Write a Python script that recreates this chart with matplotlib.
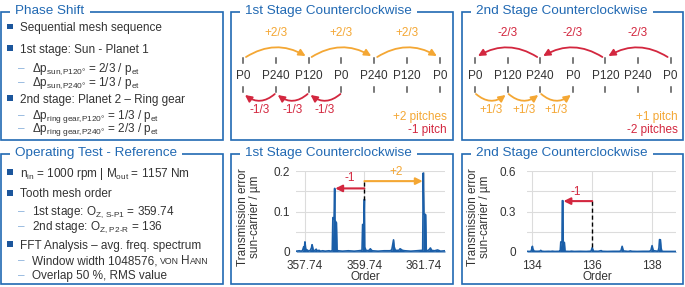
import matplotlib
matplotlib.use("Agg")
import matplotlib.pyplot as plt
from matplotlib.patches import Rectangle, FancyArrowPatch

plt.rcParams['font.family'] = ['Liberation Sans', 'DejaVu Sans']
plt.rcParams['mathtext.fontset'] = 'custom'
plt.rcParams['mathtext.rm'] = 'Liberation Sans'
plt.rcParams['mathtext.it'] = 'Liberation Sans'
plt.rcParams['mathtext.default'] = 'regular'

BLUE = '#2169b3'
DARK = '#1c569c'
DASH = '#8db3dc'
ORANGE = '#f4a734'
RED = '#d3273f'
BAR = '#1a5ea8'
GRID = '#dcdcdc'
TXT = '#333333'

# =========================
# DATA
# =========================
seq_stage1 = ["P0", "P240", "P120", "P0", "P240", "P120", "P0"]
seq_stage2 = ["P0", "P120", "P240", "P0", "P120", "P240", "P0"]
hops1_big = [(0, 2), (2, 4), (4, 6)]      # +2/3 each
hops1_small = [(1, 0), (2, 1), (3, 2)]    # -1/3 each
hops2_big = [(2, 0), (4, 2), (6, 4)]      # -2/3 each
hops2_small = [(0, 1), (1, 2), (2, 3)]    # +1/3 each

# spectrum 1st stage (order, transmission error in um)
order_s1 = [357.45, 357.55, 357.62, 357.66, 357.70, 357.72, 357.74, 357.76, 357.78,
            357.82, 357.86, 357.92, 357.96, 357.98, 358.00, 358.02, 358.06, 358.12,
            358.14, 358.22, 358.26, 358.34, 358.42, 358.55, 358.62, 358.66, 358.68,
            358.72, 358.74, 358.75, 358.80, 358.82, 358.86, 359.00, 359.20, 359.40,
            359.55, 359.66, 359.68, 359.72, 359.74, 359.75, 359.80, 359.90, 359.94,
            359.96, 360.00, 360.20, 360.40, 360.60, 360.66, 360.68, 360.72, 360.74,
            360.78, 360.90, 360.94, 360.98, 361.02, 361.10, 361.30, 361.50, 361.66,
            361.70, 361.72, 361.74, 361.80, 361.82, 361.86, 361.92, 361.96, 362.00,
            362.10, 362.20, 362.30, 362.45]
te_s1 = [0.002, 0.003, 0.002, 0.004, 0.013, 0.006, 0.025, 0.012, 0.003,
         0.005, 0.002, 0.004, 0.010, 0.018, 0.012, 0.004, 0.003, 0.007,
         0.003, 0.004, 0.002, 0.003, 0.002, 0.003, 0.002, 0.004, 0.085,
         0.082, 0.157, 0.078, 0.072, 0.004, 0.003, 0.002, 0.003, 0.002,
         0.003, 0.004, 0.068, 0.066, 0.130, 0.012, 0.003, 0.004, 0.008,
         0.006, 0.003, 0.002, 0.003, 0.003, 0.005, 0.013, 0.030, 0.013,
         0.004, 0.004, 0.008, 0.006, 0.004, 0.003, 0.002, 0.003, 0.004,
         0.004, 0.195, 0.095, 0.092, 0.004, 0.003, 0.006, 0.010, 0.004,
         0.003, 0.005, 0.002, 0.003]
ticks_s1 = [357.74, 359.74, 361.74]

# spectrum 2nd stage
order_s2 = [133.82, 133.90, 133.96, 134.00, 134.02, 134.06, 134.15, 134.25,
            134.28, 134.31, 134.40, 134.55, 134.62, 134.66, 134.75, 134.90, 134.93,
            134.95, 134.99, 135.00, 135.02, 135.03, 135.07, 135.09, 135.25, 135.30,
            135.40, 135.60, 135.80, 135.96, 136.00, 136.04, 136.20, 136.30, 136.34,
            136.50, 136.70, 136.90, 136.96, 137.00, 137.04, 137.20, 137.28, 137.32,
            137.50, 137.70, 137.90, 137.96, 138.00, 138.04, 138.20, 138.23, 138.25,
            138.28, 138.30, 138.33, 138.40, 138.60, 138.80]
te_s2 = [0.005, 0.004, 0.006, 0.042, 0.020, 0.006, 0.005, 0.006,
         0.012, 0.006, 0.004, 0.005, 0.004, 0.006, 0.004, 0.005, 0.005,
         0.075, 0.072, 0.380, 0.380, 0.075, 0.070, 0.005, 0.004, 0.006,
         0.004, 0.005, 0.004, 0.006, 0.032, 0.006, 0.005, 0.010, 0.005,
         0.004, 0.005, 0.005, 0.008, 0.042, 0.008, 0.004, 0.008, 0.005,
         0.004, 0.005, 0.005, 0.010, 0.047, 0.010, 0.005, 0.030, 0.092,
         0.090, 0.030, 0.005, 0.004, 0.004, 0.004]
ticks_s2 = [134, 136, 138]

fig = plt.figure(figsize=(6.85, 2.87), dpi=100)
bg = fig.add_axes([0, 0, 1, 1])
bg.set_xlim(0, 685)
bg.set_ylim(287, 0)
bg.axis('off')


def panel(x0, y0, x1, y1, title):
    bg.add_patch(Rectangle((x0, y0), x1 - x0, y1 - y0, fill=False, ec=BLUE, lw=1.2))
    bg.text(x0 + 14, y0 - 1, title, color=BLUE, fontsize=9.7, va='center', ha='left',
            bbox=dict(fc='white', ec='none', boxstyle='square,pad=0.4'))


def bullet(y, s):
    bg.add_patch(Rectangle((7.3, y - 7.3), 6, 5.8, color=DARK, lw=0))
    bg.text(20, y, s, fontsize=8.5, va='baseline', color=TXT)


def sub(y, s):
    bg.text(18.5, y + 0.5, "–", fontsize=8.5, va='baseline', color=DASH)
    bg.text(32, y, s, fontsize=8.5, va='baseline', color=TXT)


def chain(x, y, parts):
    r = fig.canvas.get_renderer()
    for s, size, gap in parts:
        t = bg.text(x, y, s, fontsize=size, va='baseline', color=TXT)
        bb = t.get_window_extent(renderer=r)
        x = bg.transData.inverted().transform((bb.x1, 0))[0] + gap


panel(1, 12, 223, 140, "Phase Shift")
panel(231, 12, 453, 140, "1st Stage Counterclockwise")
panel(462, 12, 683, 140, "2nd Stage Counterclockwise")
panel(1, 154, 223, 284, "Operating Test - Reference")
panel(231, 154, 453, 284, "1st Stage Counterclockwise")
panel(462, 154, 683, 284, "2nd Stage Counterclockwise")

# ---- phase shift text
bullet(31, "Sequential mesh sequence")
bullet(52.5, "1st stage: Sun - Planet 1")
sub(72, r"Δp$_{\text{sun,P120°}}$ = 2/3 / p$_{\text{et}}$")
sub(85.5, r"Δp$_{\text{sun,P240°}}$ = 1/3 / p$_{\text{et}}$")
bullet(102.5, "2nd stage: Planet 2 – Ring gear")
sub(118.5, r"Δp$_{\text{ring gear,P120°}}$ = 1/3 / p$_{\text{et}}$")
sub(132, r"Δp$_{\text{ring gear,P240°}}$ = 2/3 / p$_{\text{et}}$")

# ---- operating test text
bullet(176.5, r"n$_{\text{in}}$ = 1000 rpm | M$_{\text{out}}$ = 1157 Nm")
bullet(197, "Tooth mesh order")
sub(215, r"1st stage: O$_{\text{Z, S-P1}}$ = 359.74")
sub(230, r"2nd stage: O$_{\text{Z, P2-R}}$ = 136")
bullet(248.5, "FFT Analysis – avg. freq. spectrum")
bg.text(18.5, 264.5, "–", fontsize=8.5, va='baseline', color=DASH)
chain(32, 264, [("Window width 1048576,", 8.5, 2.5), ("VON", 6.3, 2.5),
                ("H", 8.5, 0), ("ANN", 6.3, 0)])
sub(278.5, "Overlap 50 %, RMS value")


# ---- pitch diagrams
def diagram(x0, step, seq, big, small, cbig, csmall, lbig, lsmall, legend):
    xs = [x0 + step * i for i in range(len(seq))]
    for x, lab in zip(xs, seq):
        bg.text(x, 76, lab, fontsize=8.5, ha='center', va='center', color=TXT)
        bg.plot([x, x], [58, 63], color='#555555', lw=1.1)
        bg.plot([x, x], [87, 92], color='#555555', lw=1.1)
    for a, b in big:
        sgn = 1 if b > a else -1
        bg.add_patch(FancyArrowPatch((xs[a] + 3 * sgn, 57), (xs[b] - 3 * sgn, 56),
                                     connectionstyle=f"arc3,rad={-0.3 * sgn}",
                                     arrowstyle='-|>', mutation_scale=10,
                                     color=cbig, lw=1.3, shrinkA=0, shrinkB=0))
        bg.text((xs[a] + xs[b]) / 2, 33, lbig, fontsize=8.5, ha='center',
                va='center', color=cbig)
    for a, b in small:
        sgn = 1 if b > a else -1
        bg.add_patch(FancyArrowPatch((xs[a] + 1 * sgn, 94), (xs[b] - 2 * sgn, 95),
                                     connectionstyle=f"arc3,rad={0.4 * sgn}",
                                     arrowstyle='-|>', mutation_scale=10,
                                     color=csmall, lw=1.3, shrinkA=0, shrinkB=0))
        bg.text((xs[a] + xs[b]) / 2, 110, lsmall, fontsize=8.5, ha='center',
                va='center', color=csmall)
    xr = legend[0]
    bg.text(xr, 117, legend[1], fontsize=8.5, ha='right', va='center', color=ORANGE)
    bg.text(xr, 129.5, legend[2], fontsize=8.5, ha='right', va='center', color=RED)


diagram(243, 32.8, seq_stage1, hops1_big, hops1_small, ORANGE, RED, "+2/3", "-1/3",
        (447, "+2 pitches", "-1 pitch"))
diagram(475, 32.6, seq_stage2, hops2_big, hops2_small, RED, ORANGE, "-2/3", "+1/3",
        (678, "+1 pitch", "-2 pitches"))


# ---- spectra
def spectrum(left, orders, te, xlim, ylim, yt, ymin, xt, ypad, ylab_x, xlab_x):
    ax = fig.add_axes([left / 685, (287 - 252) / 287, 149 / 685, 81 / 287])
    ax.set_facecolor('none')
    ax.fill_between(orders, te, color=BAR, lw=0, zorder=3)
    ax.plot(orders, te, color=BAR, lw=1.2, zorder=3)
    ax.set_xlim(*xlim)
    ax.set_ylim(*ylim)
    ax.set_xticks(xt)
    ax.set_xticklabels([f"{t:g}" for t in xt])
    ax.set_yticks(yt)
    ax.set_yticklabels([f"{t:g}" for t in yt])
    ax.set_yticks(ymin, minor=True)
    ax.grid(axis='y', which='both', color=GRID, lw=0.8)
    ax.grid(axis='x', which='major', color=GRID, lw=0.8)
    ax.set_axisbelow(True)
    for s in ax.spines.values():
        s.set_visible(False)
    ax.tick_params(which='both', length=0, labelsize=8.5, colors=TXT)
    ax.tick_params(axis='x', pad=6)
    ax.tick_params(axis='y', pad=ypad)
    ax.set_ylabel("Transmission error\nsun-carrier / µm", fontsize=8.5, color=TXT,
                  linespacing=1.1, ha='center', va='center')
    ax.yaxis.set_label_coords((ylab_x - left) / 149, (252 - 217) / 81)
    ax.set_xlabel("Order", fontsize=8.5, color=TXT, va='center')
    ax.xaxis.set_label_coords(xlab_x, -(277.5 - 252) / 81)
    return ax


ax1 = spectrum(296, order_s1, te_s1, (357.44, 362.45), (0, 0.2), [0, 0.1, 0.2],
               [0.05, 0.15], ticks_s1, 4.3, 249, 0.466)
ref1 = ticks_s1[1]
ax1.plot([ref1, ref1], [0.128, 0.175], color='k', lw=1, ls=(0, (3, 2)), zorder=4)
ax1.annotate("", xy=(ref1 - 1 + 0.02, 0.157), xytext=(ref1, 0.157),
             arrowprops=dict(arrowstyle='-|>', color=RED, lw=1.5, mutation_scale=10,
                             shrinkA=0, shrinkB=0), zorder=5)
ax1.annotate("", xy=(ref1 + 2 - 0.04, 0.175), xytext=(ref1, 0.175),
             arrowprops=dict(arrowstyle='-|>', color=ORANGE, lw=1.5, mutation_scale=10,
                             shrinkA=0, shrinkB=0), zorder=5)
ax1.text(ref1 - 0.5, 0.182, "-1", color=RED, fontsize=8.5, ha='center', va='center')
ax1.text(ref1 + 1.05, 0.197, "+2", color=ORANGE, fontsize=8.5, ha='center', va='center')

ax2 = spectrum(527, order_s2, te_s2, (133.82, 138.8), (0, 0.6), [0, 0.3, 0.6],
               [0.15, 0.45], ticks_s2, 8, 479, 0.473)
ref2 = ticks_s2[1]
ax2.plot([ref2, ref2], [0.035, 0.377], color='k', lw=1, ls=(0, (3, 2)), zorder=4)
ax2.annotate("", xy=(ref2 - 1 + 0.04, 0.377), xytext=(ref2, 0.377),
             arrowprops=dict(arrowstyle='-|>', color=RED, lw=1.5, mutation_scale=10,
                             shrinkA=0, shrinkB=0), zorder=5)
ax2.text(ref2 - 0.55, 0.447, "-1", color=RED, fontsize=8.5, ha='center', va='center')

fig.savefig("out.png", dpi=100)
